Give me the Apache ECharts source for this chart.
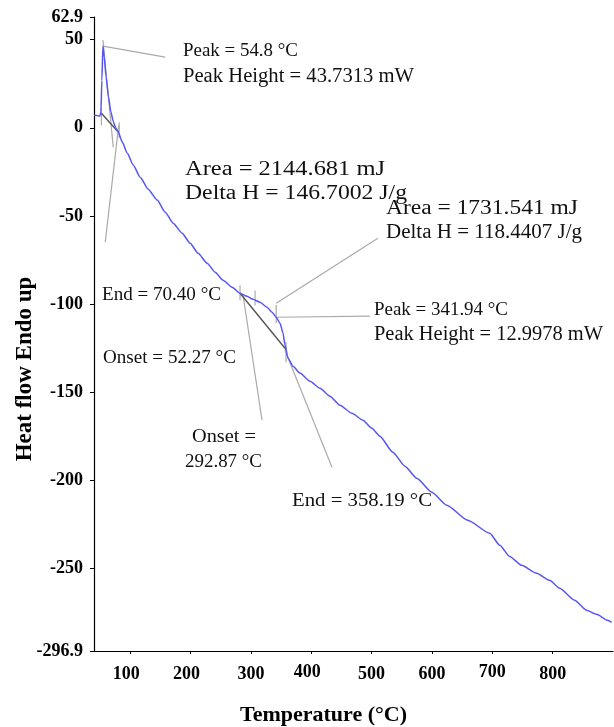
<!DOCTYPE html>
<html>
<head>
<meta charset="utf-8">
<script src="https://cdn.jsdelivr.net/npm/echarts@6/dist/echarts.min.js"></script>
<style>
  html, body { margin: 0; padding: 0; background: #fff; }
  #chart { width: 614px; height: 727px; }
</style>
</head>
<body>
<div id="chart"></div>
<script>
// DSC trace: heat flow (mW) against temperature (°C)
const temperature = [
  40.4, 45, 49.5, 51.5, 53, 54.8, 57, 60, 64, 68, 72, 76, 80.1, 86.8, 95.0, 105.0,
  116.5, 129.8, 144.7, 157.9, 171.2, 186.0, 199.3, 212.5, 227.4, 240.7, 253.9,
  268.8, 282.0, 293.6, 303.5, 315.1, 326.7, 335.0, 341.9, 348.2, 353.2, 356.5,
  361.5, 369.7, 381.3, 397.9, 414.4, 431.0, 447.5, 467.4, 485.6, 500.5, 513.7,
  535.2, 555.1, 574.9, 599.8, 624.6, 659.3, 695.7, 712.3, 728.8, 748.7, 773.5,
  795.0, 811.6, 836.4, 856.3, 872.8, 891.0, 897.6
];
const heatFlow = [
  7.2, 7.0, 6.6, 9.0, 27.0, 46.4, 40.0, 29.0, 17.5, 9.0, 3.5, 0.0, -2.4, -8.1, -14.3, -21.1,
  -28.0, -34.8, -41.0, -47.9, -54.1, -59.8, -65.5, -71.2, -76.8, -81.9, -86.5,
  -90.4, -93.9, -95.6, -97.3, -99.0, -101.8, -104.6, -107.5, -110.9, -116.5, -123.3,
  -130.7, -135.3, -139.2, -143.8, -147.8, -152.3, -157.4, -162.0, -165.9, -170.5, -175.0,
  -184.1, -192.0, -198.9, -206.8, -214.2, -222.7, -230.1, -236.9, -243.2, -248.3, -252.8,
  -256.8, -261.3, -268.1, -273.8, -276.1, -279.5, -280.6
];

// axis ticks
const xTicks = [100, 200, 300, 400, 500, 600, 700, 800];
const xNudgedLeft = [100, 200, 400];
const xRaised = [400, 700];
const yTicks = [62.9, 50, 0, -50, -100, -150, -200, -250, -296.9];
const xRange = [40, 900];
const yRange = [-296.9, 62.9];
const yTitle = 'Heat flow Endo up';
const xTitle = 'Temperature (°C)';

// integration baselines (dark) and analysis guide lines (light), in data units
const baselines = [
  [[52.27, 8.3], [80.1, -2.4]],
  [[282.0, -93.9], [358.19, -125.8]]
];
const guides = [
  [[54.8, 46.4], [157.9, 40.1]],      // peak 1 leader
  [[54.8, 49.8], [71.9, -11.0]],      // peak 1 drop
  [[52.27, 11.2], [52.27, 1.5]],      // onset 1 tick
  [[81.8, 3.2], [81.8, -5.8]],        // end 1 tick
  [[81.0, 1.5], [58.6, -64.9]],       // end 1 leader
  [[282.0, -89.4], [282.0, -97.9]],   // onset 2 tick
  [[306.9, -92.3], [306.9, -100.8]],  // tick
  [[287.0, -95.0], [318.4, -165.9]],  // onset 2 leader
  [[341.94, -100.6], [341.94, -110.9]], // peak 2 tick
  [[341.94, -107.5], [497.2, -106.9]],  // peak 2 leader
  [[341.94, -99.5], [510.4, -62.6]],    // area 2 leader
  [[358.19, -121.5], [358.19, -133.0]], // end 2 tick
  [[356.5, -126.2], [434.3, -192.6]]    // end 2 leader
];

// annotation texts: top-left corner, font size and printed width
const notes = [
  { text: 'Peak = 54.8 °C', x: 183, y: 42, size: 19, w: 115 },
  { text: 'Peak Height = 43.7313 mW', x: 183, y: 67, size: 20, w: 231 },
  { text: 'Area = 2144.681 mJ', x: 185, y: 160, size: 20, w: 200 },
  { text: 'Delta H = 146.7002 J/g', x: 185, y: 184, size: 20, w: 222 },
  { text: 'Area = 1731.541 mJ', x: 386, y: 199, size: 20, w: 192 },
  { text: 'Delta H = 118.4407 J/g', x: 386, y: 223, size: 20, w: 196 },
  { text: 'End = 70.40 °C', x: 102, y: 286, size: 19, w: 119 },
  { text: 'Onset = 52.27 °C', x: 103, y: 349, size: 19, w: 133 },
  { text: 'Peak = 341.94 °C', x: 374, y: 301, size: 19, w: 134 },
  { text: 'Peak Height = 12.9978 mW', x: 374, y: 325, size: 20, w: 229 },
  { text: 'Onset =', x: 192, y: 428, size: 19, w: 64 },
  { text: '292.87 °C', x: 185, y: 453, size: 19, w: 77 },
  { text: 'End = 358.19 °C', x: 292, y: 492, size: 19, w: 140 }
];

const serif = '"Liberation Serif", "Times New Roman", serif';
const measureCtx = document.createElement('canvas').getContext('2d');
function textWidth(text, size) {
  measureCtx.font = size + 'px ' + serif;
  return measureCtx.measureText(text).width;
}

const chart = echarts.init(document.getElementById('chart'), null, { renderer: 'canvas' });

const series = [];
baselines.forEach(seg => series.push({
  type: 'line', data: seg, symbol: 'none', silent: true, z: 3,
  lineStyle: { color: '#555', width: 1.4 }
}));
guides.forEach(seg => series.push({
  type: 'line', data: seg, symbol: 'none', silent: true, z: 2,
  lineStyle: { color: '#aaa', width: 1.2 }
}));
series.push({
  type: 'line',
  data: temperature.map((t, i) => [t, heatFlow[i]]),
  symbol: 'none',
  smooth: 0.2,
  smoothMonotone: 'x',
  z: 4,
  lineStyle: { color: '#5656f3', width: 1.5 }
});

const tickFont = { fontFamily: serif, fontWeight: 'bold', fontSize: 18, color: '#000' };

// x tick label styles: a small left nudge and/or a slight raise for some labels
function xLabelStyle(v) {
  const left = xNudgedLeft.indexOf(v) >= 0;
  const up = xRaised.indexOf(v) >= 0;
  return (up ? 'u' : 'd') + (left ? 'l' : 'c');
}
const xRich = {};
['dc', 'dl', 'uc', 'ul'].forEach(k => {
  xRich[k] = Object.assign({
    padding: [k[0] === 'd' ? 2 : 0, k[1] === 'l' ? 8 : 0, 0, 0]
  }, tickFont);
});

const graphics = notes.map(n => ({
  type: 'text', x: n.x, y: n.y, silent: true, z: 10,
  scaleX: n.w / textWidth(n.text, n.size),
  style: { text: n.text, fontFamily: serif, fontSize: n.size, fill: '#111', verticalAlign: 'top', align: 'left' }
}));
// vertical axis title
graphics.push({
  type: 'text', x: 25, y: 369, rotation: Math.PI / 2, silent: true,
  style: { text: yTitle, fontFamily: serif, fontWeight: 'bold', fontSize: 23, fill: '#000', align: 'center', verticalAlign: 'middle' }
});

chart.setOption({
  backgroundColor: '#fff',
  animation: false,
  grid: { left: 94, right: 1, top: 17, bottom: 76, outerBoundsMode: 'none' },
  xAxis: {
    type: 'value',
    min: xRange[0], max: xRange[1],
    name: xTitle,
    nameLocation: 'middle',
    nameGap: 53,
    nameTextStyle: { fontFamily: serif, fontWeight: 'bold', fontSize: 22, color: '#000', padding: [0, 60, 0, 0] },
    axisLine: { onZero: false, lineStyle: { color: '#000', width: 1.2 } },
    axisTick: { show: true, length: 3, customValues: xTicks, lineStyle: { color: '#000' } },
    axisLabel: Object.assign({
      customValues: xTicks,
      margin: 12,
      formatter: v => '{' + xLabelStyle(v) + '|' + v + '}',
      rich: xRich
    }, tickFont),
    splitLine: { show: false }
  },
  yAxis: {
    type: 'value',
    min: yRange[0], max: yRange[1],
    axisLine: { show: true, onZero: false, lineStyle: { color: '#000', width: 1.2 } },
    axisTick: { show: true, length: 4, customValues: yTicks, lineStyle: { color: '#000' } },
    axisLabel: Object.assign({ customValues: yTicks, margin: 11 }, tickFont),
    splitLine: { show: false }
  },
  graphic: graphics,
  series
});
</script>
</body>
</html>
